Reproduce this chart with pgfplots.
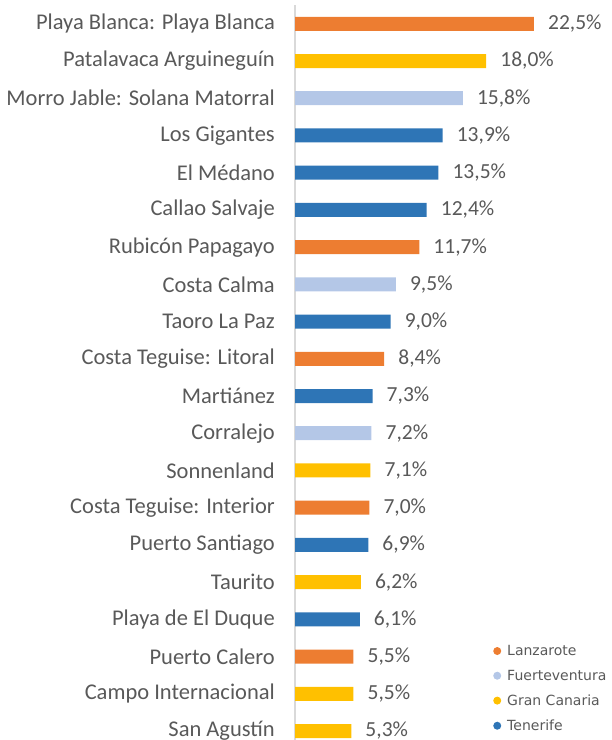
\documentclass[border=0pt]{standalone}
\usepackage{pgfplots}
\pgfplotsset{compat=1.18}
\usepackage{fontspec}
\setmainfont{Carlito}
\newfontfamily\legfont{DejaVu Sans}
\definecolor{lanz}{HTML}{ED7D31}
\definecolor{fuer}{HTML}{B4C7E7}
\definecolor{gcan}{HTML}{FFC000}
\definecolor{tene}{HTML}{2E75B6}
\definecolor{txt}{HTML}{595959}
\definecolor{axl}{HTML}{D9D9D9}
\begin{document}
\begin{tikzpicture}
\path[use as bounding box] (0,0) rectangle (612bp,740bp);
\begin{axis}[
  at={(295bp,0bp)}, anchor=south west,
  scale only axis, width=308bp, height=735bp,
  xmin=0, xmax=29, ymin=-0.505, ymax=19.242, y dir=reverse,
  axis x line=none, axis y line*=left,
  y axis line style={draw=axl, line width=1.5bp},
  xbar, bar shift=0pt, bar width=14bp,
  ytick={0,...,19}, major tick length=0pt,
  yticklabels={Playa Blanca: Playa Blanca, Patalavaca Arguineguín, Morro Jable: Solana Matorral, Los Gigantes, El Médano, Callao Salvaje, Rubicón Papagayo, Costa Calma, Taoro La Paz, Costa Teguise: Litoral, Martiánez, Corralejo, Sonnenland, Costa Teguise: Interior, Puerto Santiago, Taurito, Playa de El Duque, Puerto Calero, Campo Internacional, San Agustín},
  yticklabel style={font=\fontsize{22.5bp}{26bp}\selectfont, text=txt, inner xsep=0pt, anchor=east, xshift=-20bp},
  point meta=x,
  nodes near coords={\pgfmathprintnumber[fixed, fixed zerofill, precision=1, use comma, assume math mode=true]{\pgfplotspointmeta}\%},
  nodes near coords style={font=\fontsize{21.5bp}{25bp}\selectfont, text=txt, anchor=west, inner xsep=0pt, xshift=14bp},
  clip=false,
  legend cell align=left,
  legend style={draw=none, fill=none, at={(0.643,0.132)}, anchor=north west, font=\legfont\fontsize{14bp}{16bp}\selectfont, text=txt, row sep=9bp, inner sep=0pt},
]
\addplot[fill=lanz, draw=none, legend image code/.code={\fill[lanz] (0bp,0bp) circle (4bp); \path (-4bp,0bp) (8bp,0bp);}] coordinates {(22.5,0) (11.7,6) (8.4,9) (7.0,13) (5.5,17)};
\addplot[fill=fuer, draw=none, legend image code/.code={\fill[fuer] (0bp,0bp) circle (4bp); \path (-4bp,0bp) (8bp,0bp);}] coordinates {(15.8,2) (9.5,7) (7.2,11)};
\addplot[fill=gcan, draw=none, legend image code/.code={\fill[gcan] (0bp,0bp) circle (4bp); \path (-4bp,0bp) (8bp,0bp);}] coordinates {(18.0,1) (7.1,12) (6.2,15) (5.5,18) (5.3,19)};
\addplot[fill=tene, draw=none, legend image code/.code={\fill[tene] (0bp,0bp) circle (4bp); \path (-4bp,0bp) (8bp,0bp);}] coordinates {(13.9,3) (13.5,4) (12.4,5) (9.0,8) (7.3,10) (6.9,14) (6.1,16)};
\legend{Lanzarote, Fuerteventura, Gran Canaria, Tenerife}
\end{axis}
\end{tikzpicture}
\end{document}
